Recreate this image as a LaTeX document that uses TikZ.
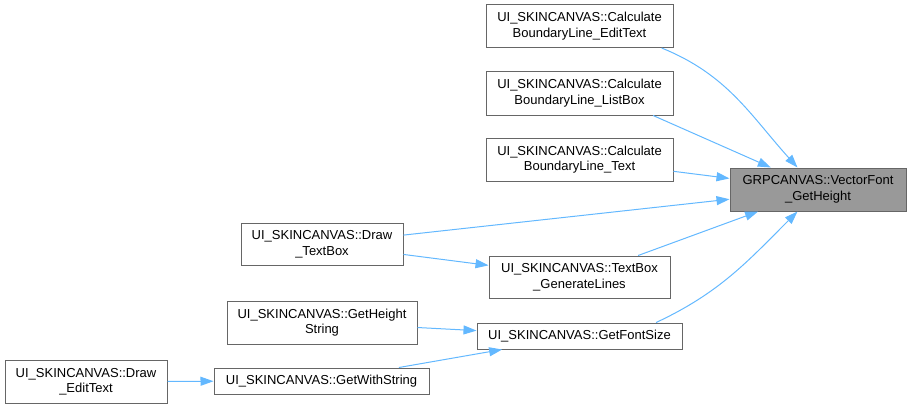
\documentclass[tikz,border=0pt]{standalone}
\usepackage{fontspec}
\setmainfont{Liberation Sans}
\usepackage{xcolor}
\usetikzlibrary{arrows.meta}
\definecolor{boxline}{HTML}{666666}
\definecolor{focusfill}{HTML}{999999}
\definecolor{callblue}{HTML}{63B8FF}

\begin{document}
\begin{tikzpicture}[x=1pt,y=1pt,>={Triangle[length=13pt,width=9pt]},
  every node/.style={font=\fontsize{13}{15.5}\selectfont,align=center},
  fn/.style={draw=boxline,fill=white,line width=1pt,inner sep=0pt},
  focus/.style={fn,fill=focusfill},
  call/.style={->,draw=callblue,line width=1pt}]
\useasboundingbox (0,0) rectangle (911,-408);
% functions
\node[fn,minimum width=187pt,minimum height=43pt] (calcedit) at (579.5,-26) {UI\_SKINCANVAS::Calculate\\BoundaryLine\_EditText};
\node[fn,minimum width=187pt,minimum height=44pt] (calclist) at (579.5,-93) {UI\_SKINCANVAS::Calculate\\BoundaryLine\_ListBox};
\node[fn,minimum width=187pt,minimum height=43pt] (calctext) at (579.5,-159.5) {UI\_SKINCANVAS::Calculate\\BoundaryLine\_Text};
\node[focus,minimum width=176pt,minimum height=43pt] (grp) at (818,-189.5) {GRPCANVAS::VectorFont\\\_GetHeight};
\node[fn,minimum width=162pt,minimum height=42pt] (drawtb) at (322,-244) {UI\_SKINCANVAS::Draw\\\_TextBox};
\node[fn,minimum width=181pt,minimum height=42pt] (genlines) at (579.5,-277) {UI\_SKINCANVAS::TextBox\\\_GenerateLines};
\node[fn,minimum width=190pt,minimum height=43pt] (heightstr) at (322,-322.5) {UI\_SKINCANVAS::GetHeight\\String};
\node[fn,minimum width=205pt,minimum height=26pt] (fontsize) at (579.5,-336) {UI\_SKINCANVAS::GetFontSize};
\node[fn,minimum width=162pt,minimum height=43pt] (drawedit) at (86,-381.5) {UI\_SKINCANVAS::Draw\\\_EditText};
\node[fn,minimum width=215pt,minimum height=26pt] (withstr) at (321.5,-381) {UI\_SKINCANVAS::GetWithString};
% calls
\draw[call] (calcedit.-15) to[out=-22,in=132] (grp.133);
\draw[call] (calclist.-17) -- (grp.155);
\draw[call] (calctext) -- (grp);
\draw[call] (drawtb) -- (grp);
\draw[call] (drawtb) -- (genlines);
\draw[call] (genlines) -- (grp);
\draw[call] (fontsize.10) to[out=25,in=-135] (grp.-133);
\draw[call] (heightstr) -- (fontsize);
\draw[call] (withstr) -- (fontsize);
\draw[call] (drawedit) -- (withstr);
\end{tikzpicture}
\end{document}
